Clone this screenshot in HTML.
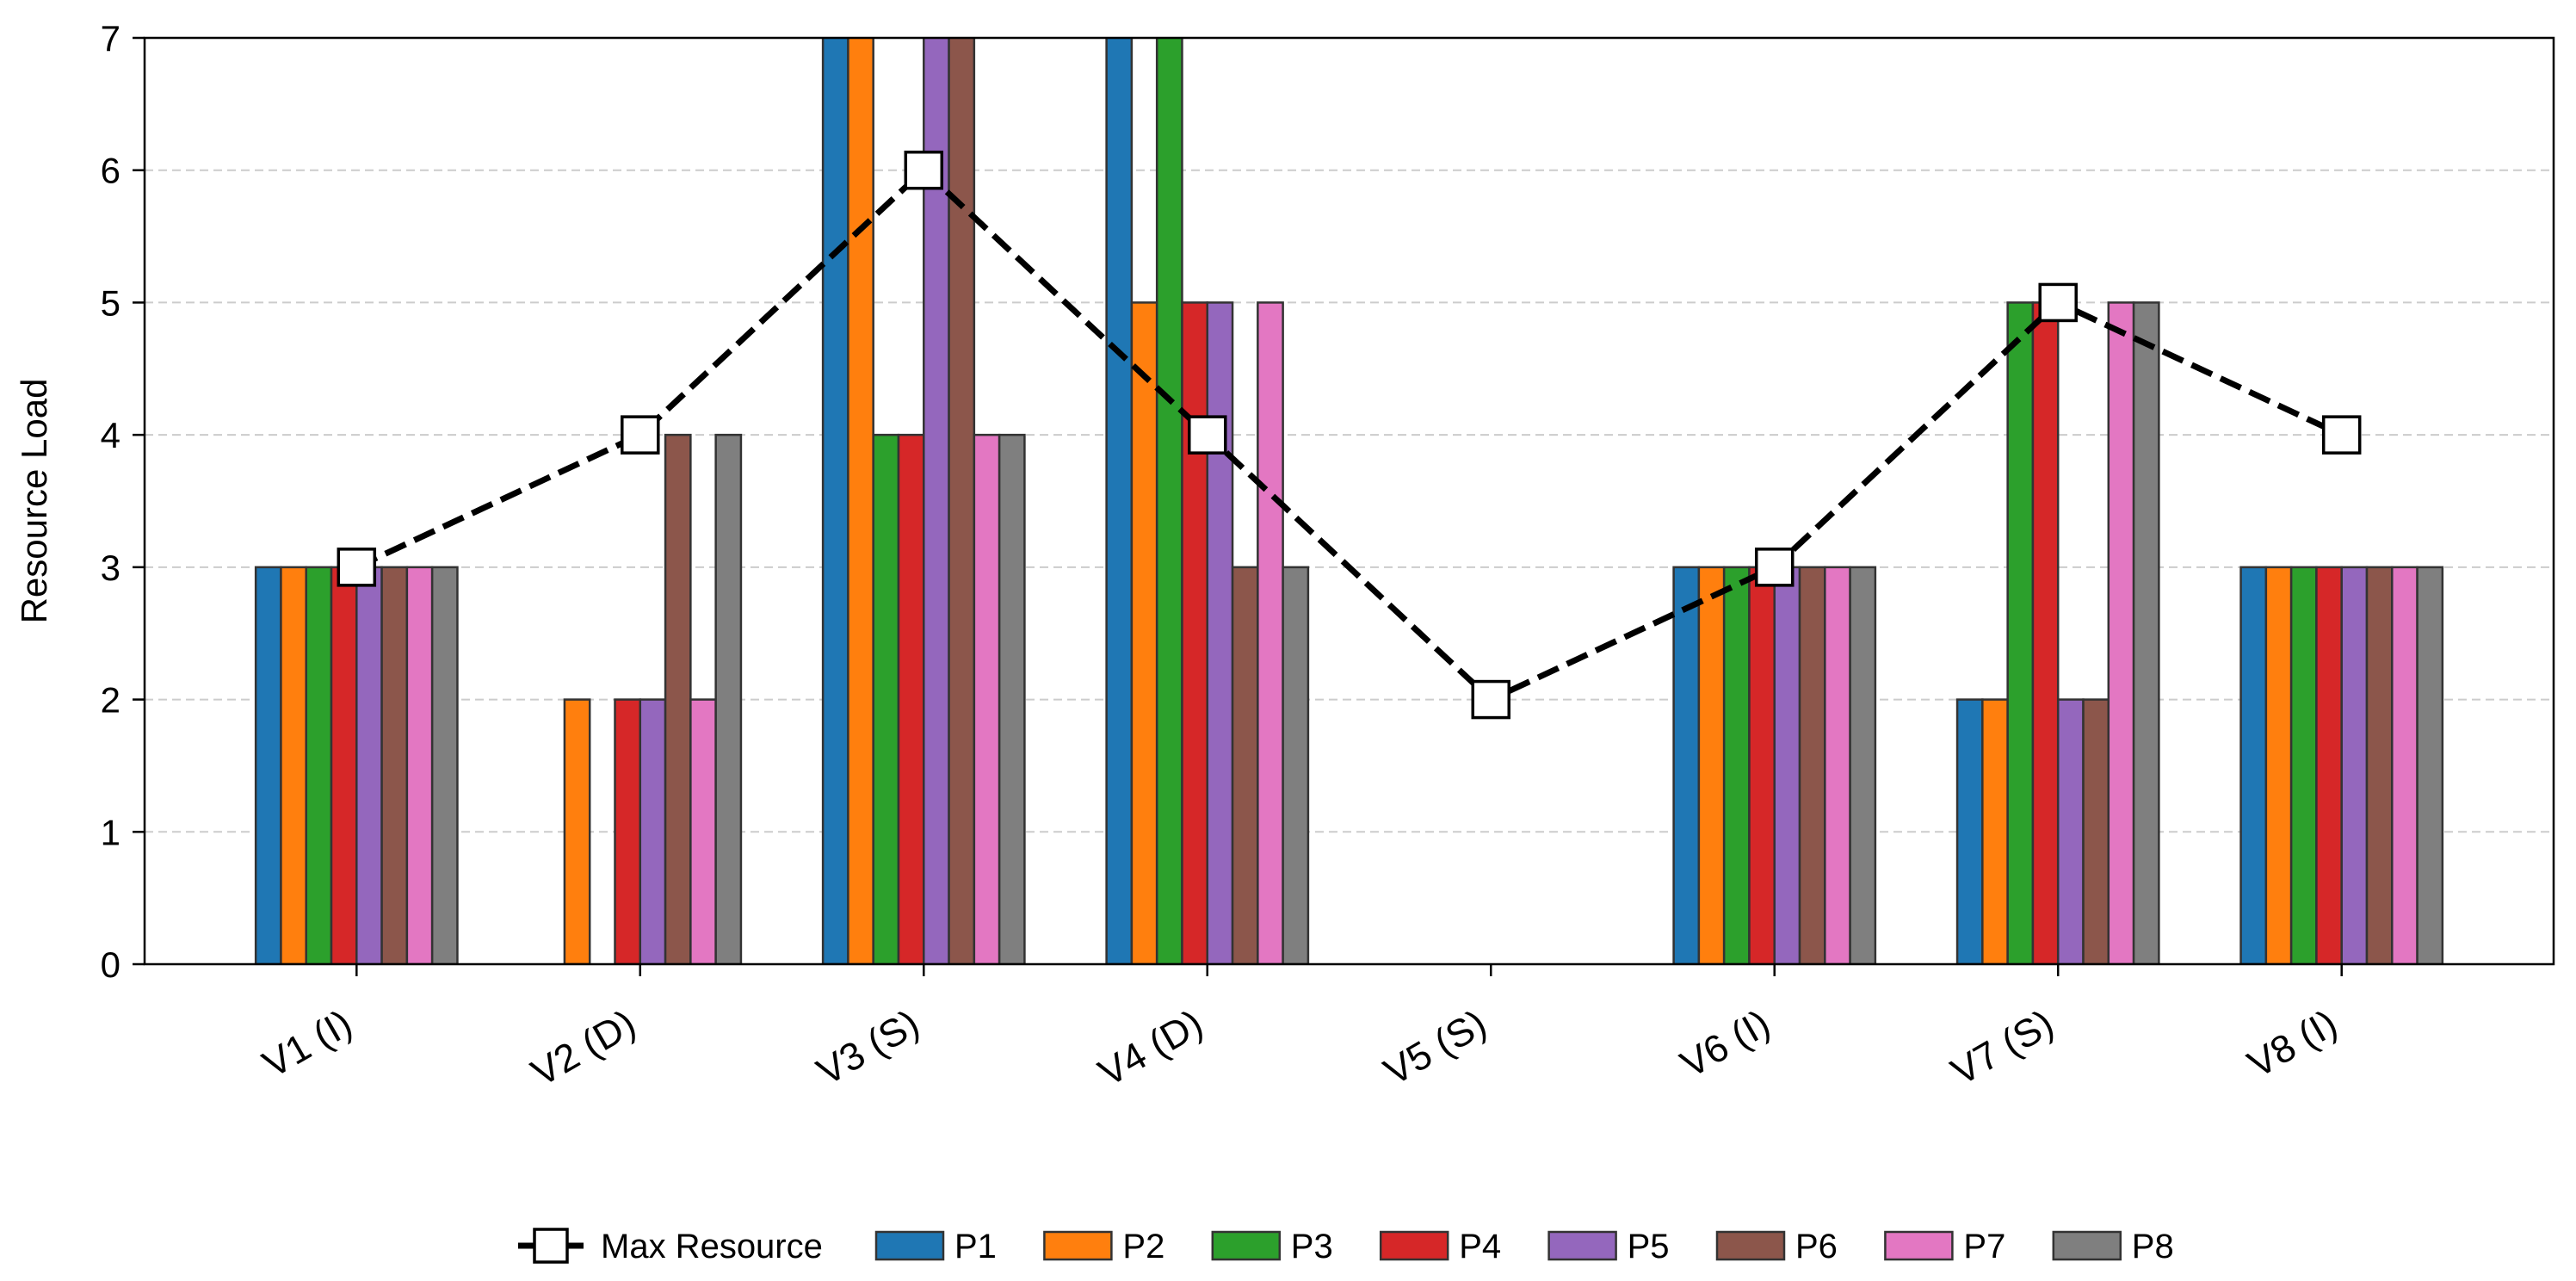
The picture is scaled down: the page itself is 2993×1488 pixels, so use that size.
<!DOCTYPE html>
<html><head><meta charset="utf-8"><style>
html,body{margin:0;padding:0;background:#fff;}
svg{display:block;font-family:"Liberation Sans",Arial,sans-serif;}
</style></head><body>
<svg id="chart" width="2993" height="1488" viewBox="0 0 2993 1488">
<g id="grid"></g>
<g id="bars"></g>
<g id="line"></g>
<g id="axes"></g>
<g id="legend"></g>
</svg>
<script>
const categories = ["V1 (I)","V2 (D)","V3 (S)","V4 (D)","V5 (S)","V6 (I)","V7 (S)","V8 (I)"];
const seriesNames = ["P1","P2","P3","P4","P5","P6","P7","P8"];
const P1 = [3,0,8,8,0,3,2,3];
const P2 = [3,2,8,5,0,3,2,3];
const P3 = [3,0,4,8,0,3,5,3];
const P4 = [3,2,4,5,0,3,5,3];
const P5 = [3,2,8,5,0,3,2,3];
const P6 = [3,4,8,3,0,3,2,3];
const P7 = [3,2,4,5,0,3,5,3];
const P8 = [3,4,4,3,0,3,5,3];
const maxResource = [3,4,6,4,2,3,5,4];
const yTicks = [0,1,2,3,4,5,6,7];
const colors = ["#1f77b4","#ff7f0e","#2ca02c","#d62728","#9467bd","#8c564b","#e377c2","#7f7f7f"];
const series = [P1,P2,P3,P4,P5,P6,P7,P8];

const NS="http://www.w3.org/2000/svg";
const L=168,R=2967,T=44,B=1120;
const xMin=-0.7475,xMax=7.7475,yMin=0,yMax=7;
const xs=v=>L+(v-xMin)/(xMax-xMin)*(R-L);
const ys=v=>B-(v-yMin)/(yMax-yMin)*(B-T);
function mk(tag,attrs,parent){const e=document.createElementNS(NS,tag);for(const k in attrs)e.setAttribute(k,attrs[k]);parent.appendChild(e);return e;}

const defs=mk('defs',{},document.getElementById('chart'));
const cp=mk('clipPath',{id:'plotclip'},defs);
mk('rect',{x:L,y:T,width:R-L,height:B-T},cp);

const grid=document.getElementById('grid');
yTicks.forEach(t=>{ if(t===0||t===7) return;
  const g=mk('line',{x1:L,x2:R,y1:ys(t),y2:ys(t),stroke:'#cccccc','stroke-width':2,'stroke-dasharray':'10,6'},grid);
  
  
});

const bars=document.getElementById('bars');
bars.setAttribute('clip-path','url(#plotclip)');
const bw=0.8/9;
series.forEach((vals,si)=>{
  vals.forEach((v,ci)=>{
    if(v<=0) return;
    const x0=xs(ci+(si-4)*bw), x1=xs(ci+(si-3)*bw);
    const r=mk('rect',{x:x0,y:ys(v),width:x1-x0,height:ys(0)-ys(v),fill:colors[si],stroke:'#333','stroke-width':2.5},bars);
    
    
  });
});

const line=document.getElementById('line');
const pts=maxResource.map((v,i)=>xs(i)+','+ys(v)).join(' ');
const pl=mk('polyline',{points:pts,fill:'none',stroke:'#000','stroke-width':7,'stroke-dasharray':'26,11'},line);


maxResource.forEach((v,i)=>{
  const s=42;
  const m=mk('rect',{x:xs(i)-s/2,y:ys(v)-s/2,width:s,height:s,fill:'#fff',stroke:'#000','stroke-width':3.5},line);
  
  
});

const axes=document.getElementById('axes');
const frame=mk('rect',{x:L,y:T,width:R-L,height:B-T,fill:'none',stroke:'#000','stroke-width':2.5},axes);


yTicks.forEach(t=>{
  const tk=mk('line',{x1:L-14,x2:L,y1:ys(t),y2:ys(t),stroke:'#000','stroke-width':2.5},axes);
  
  
  const tx=mk('text',{x:L-28,y:ys(t)+15,'text-anchor':'end','font-size':42,fill:'#000'},axes);
  tx.textContent=t;
  
  
});
categories.forEach((c,i)=>{
  const x=xs(i);
  const tk=mk('line',{x1:x,x2:x,y1:B,y2:B+14,stroke:'#000','stroke-width':2.5},axes);
  
  
  const ax=x-2, ay=B+78;
  const tx=mk('text',{x:ax,y:ay,'text-anchor':'end','font-size':45,fill:'#000',transform:'rotate(-30 '+ax+' '+ay+')'},axes);
  tx.textContent=c;
  
  
});
const yt=mk('text',{x:54,y:(T+B)/2,'text-anchor':'middle','font-size':42,fill:'#000',transform:'rotate(-90 54 '+((T+B)/2)+')'},axes);
yt.textContent='Resource Load';



const lg=document.getElementById('legend');
const ly=1447;
const l1=mk('line',{x1:602,x2:678,y1:ly,y2:ly,stroke:'#000','stroke-width':7},lg);


const lm=mk('rect',{x:621,y:ly-19,width:38,height:38,fill:'#fff',stroke:'#000','stroke-width':3.5},lg);


const lt=mk('text',{x:698,y:ly+14,'font-size':40,fill:'#000'},lg);
lt.textContent='Max Resource';


seriesNames.forEach((n,i)=>{
  const px=1018+i*195.4;
  const r=mk('rect',{x:px,y:ly-16,width:78,height:32,fill:colors[i],stroke:'#333','stroke-width':2.5},lg);
  
  
  const t=mk('text',{x:px+91,y:ly+14,'font-size':40,fill:'#000'},lg);
  t.textContent=n;
  
  
});
</script>
</body></html>
